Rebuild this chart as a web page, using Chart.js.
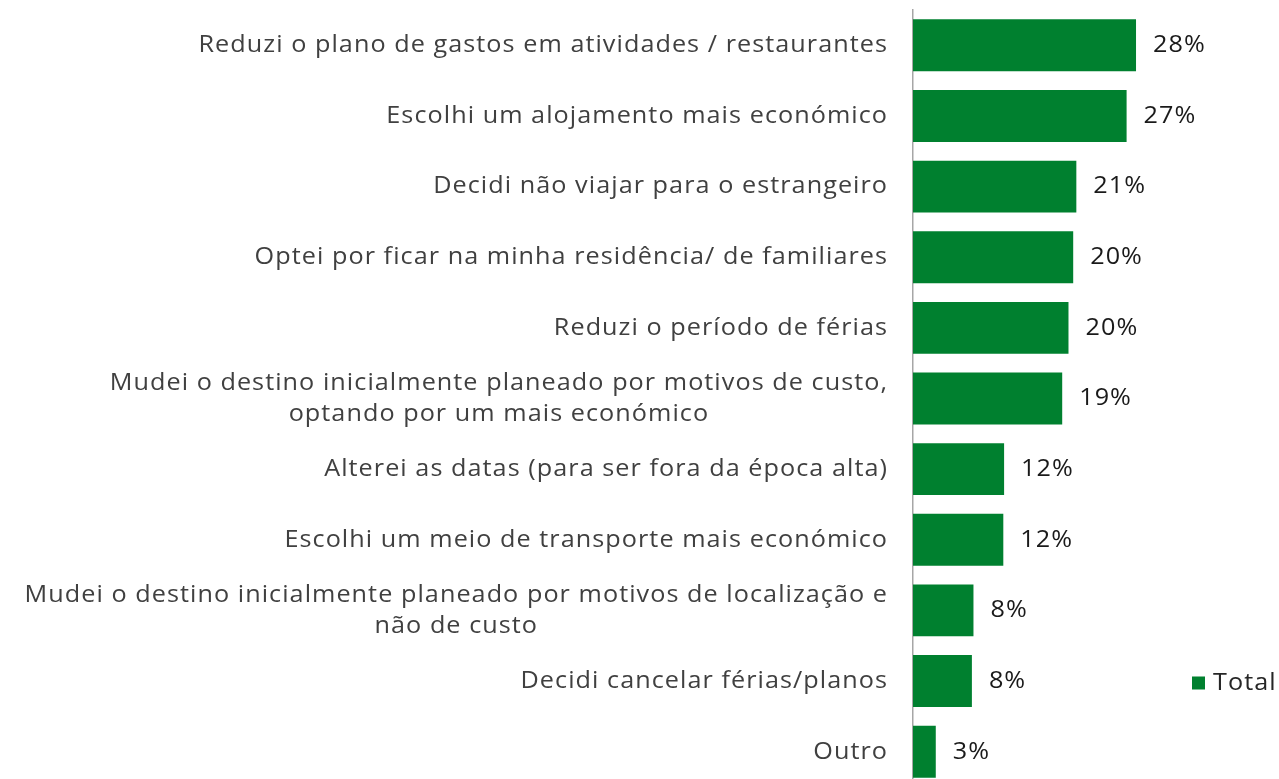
<!DOCTYPE html>
<html>
<head>
<meta charset="utf-8">
<script src="https://cdn.jsdelivr.net/npm/chart.js@4"></script>
<style>
html,body{margin:0;padding:0;background:#fff;overflow:hidden;}
#wrap{position:relative;width:1279px;height:790px;}
</style>
</head>
<body>
<div id="wrap"><canvas id="c"></canvas></div>
<script>
const categories = [
  ['Reduzi o plano de gastos em atividades / restaurantes'],
  ['Escolhi um alojamento mais económico'],
  ['Decidi não viajar para o estrangeiro'],
  ['Optei por ficar na minha residência/ de familiares'],
  ['Reduzi o período de férias'],
  ['Mudei o destino inicialmente planeado por motivos de custo,', 'optando por um mais económico'],
  ['Alterei as datas (para ser fora da época alta)'],
  ['Escolhi um meio de transporte mais económico'],
  ['Mudei o destino inicialmente planeado por motivos de localização e', 'não de custo'],
  ['Decidi cancelar férias/planos'],
  ['Outro']
];
const seriesName = 'Total';
const totalValues = [28.4, 27.2, 20.8, 20.4, 19.8, 19.0, 11.6, 11.5, 7.7, 7.5, 2.9];

const GREEN = '#00802f';
const FONT = '"Open Sans", Lato, sans-serif';
const SX = 1.05; // horizontal stretch of the text glyphs

function drawStretched(ctx, text, x, y) {
  ctx.save();
  ctx.translate(x, y);
  ctx.scale(SX, 1);
  ctx.fillText(text, 0, 0);
  ctx.restore();
}

const labelPlugin = {
  id: 'customLabels',
  afterDatasetsDraw(chart) {
    const ctx = chart.ctx;
    const y = chart.scales.y;
    const meta = chart.getDatasetMeta(0);
    ctx.save();
    // category labels
    ctx.font = '24px ' + FONT;
    ctx.letterSpacing = '1px';
    ctx.fillStyle = '#404040';
    ctx.textBaseline = 'middle';
    ctx.textAlign = 'left';
    const rightX = chart.chartArea.left - 26;
    const lh = 31;
    categories.forEach((lines, i) => {
      const cy = y.getPixelForValue(i);
      const widths = lines.map(l => (ctx.measureText(l).width - 1) * SX);
      const w = Math.max(...widths);
      const cx = rightX - w / 2;
      lines.forEach((l, j) => {
        drawStretched(ctx, l, cx - widths[j] / 2, cy + (j - (lines.length - 1) / 2) * lh);
      });
    });
    // value labels
    ctx.fillStyle = '#1a1a1a';
    meta.data.forEach((bar, i) => {
      drawStretched(ctx, Math.round(totalValues[i]) + '%', bar.x + 17, bar.y);
    });
    // legend
    const lx = 1192, ly = 683;
    ctx.fillStyle = GREEN;
    ctx.fillRect(lx, ly - 6.5, 13, 13);
    ctx.fillStyle = '#262626';
    drawStretched(ctx, seriesName, lx + 21, ly);
    ctx.restore();
  }
};

new Chart(document.getElementById('c'), {
  type: 'bar',
  data: {
    labels: categories,
    datasets: [{
      label: seriesName,
      data: totalValues,
      backgroundColor: GREEN,
      borderWidth: 0,
      categoryPercentage: 1,
      barPercentage: 0.735
    }]
  },
  options: {
    indexAxis: 'y',
    responsive: true,
    maintainAspectRatio: false,
    animation: false,
    layout: { padding: { top: 10, bottom: 3, left: 0, right: 99 } },
    plugins: { legend: { display: false }, tooltip: { enabled: false } },
    scales: {
      x: { display: false, min: 0, max: 34.0 },
      y: {
        position: 'left',
        ticks: { display: false },
        grid: { display: false, drawTicks: false },
        border: { display: true, color: '#a6a6a6', width: 1.5 },
        afterFit(scale) { scale.width = 913; }
      }
    }
  },
  plugins: [labelPlugin]
});
</script>
</body>
</html>
